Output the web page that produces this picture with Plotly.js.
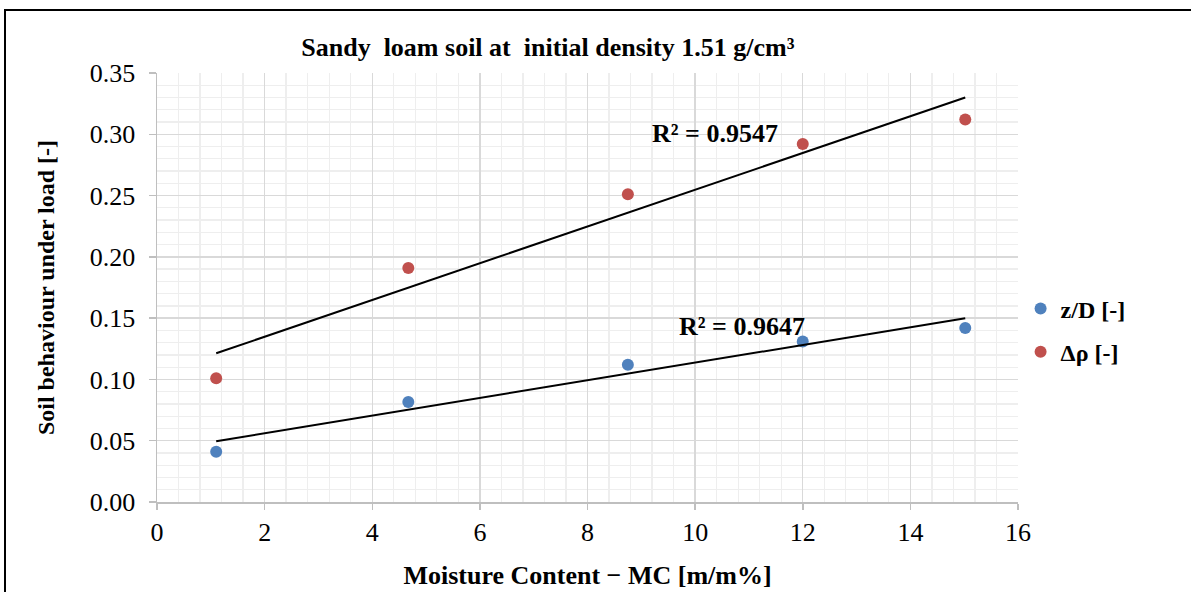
<!DOCTYPE html>
<html>
<head>
<meta charset="utf-8">
<script src="https://cdn.plot.ly/plotly-3.0.1.min.js"></script>
<style>
html,body{margin:0;padding:0;overflow:hidden;background:#fff;}
#wrap{position:relative;width:1191px;height:592px;}
#chart{position:absolute;left:0;top:0;width:1191px;height:592px;}
#frame{position:absolute;left:4px;top:9px;width:1300px;height:700px;border-left:2.5px solid #000;border-top:2.5px solid #000;pointer-events:none;}
</style>
</head>
<body>
<div id="wrap"><div id="chart"></div><div id="frame"></div></div>
<script>
// Data
const moisture = [1.1, 4.67, 8.75, 12.0, 15.02];
const zD = [0.041, 0.0816, 0.112, 0.131, 0.142];
const dRho = [0.101, 0.191, 0.251, 0.292, 0.312];
const seriesNames = ['z/D [-]', 'Δρ [-]'];
const r2Labels = ['R² = 0.9647', 'R² = 0.9547'];

function linfit(x, y) {
  const n = x.length;
  const mx = x.reduce((a, b) => a + b, 0) / n;
  const my = y.reduce((a, b) => a + b, 0) / n;
  let sxy = 0, sxx = 0;
  for (let i = 0; i < n; i++) { sxy += (x[i] - mx) * (y[i] - my); sxx += (x[i] - mx) ** 2; }
  const m = sxy / sxx;
  return { m: m, b: my - m * mx };
}
const xEnds = [Math.min(...moisture), Math.max(...moisture)];
const fz = linfit(moisture, zD);
const fr = linfit(moisture, dRho);

const font = 'Liberation Serif, Times New Roman, serif';
const traces = [
  {x: moisture, y: zD, mode: 'markers', type: 'scatter', name: '<b>' + seriesNames[0] + '</b>', legendgroup: 'a',
   marker: {color: '#4f81bd', size: 12}},
  {x: moisture, y: dRho, mode: 'markers', type: 'scatter', name: '<b>' + seriesNames[1] + '</b>', legendgroup: 'b',
   marker: {color: '#c0504d', size: 12}},
  {x: xEnds, y: xEnds.map(v => fz.m * v + fz.b), mode: 'lines', type: 'scatter', showlegend: false,
   line: {color: '#000', width: 2}, hoverinfo: 'skip'},
  {x: xEnds, y: xEnds.map(v => fr.m * v + fr.b), mode: 'lines', type: 'scatter', showlegend: false,
   line: {color: '#000', width: 2}, hoverinfo: 'skip'}
];

const layout = {
  width: 1191, height: 592,
  margin: {l: 157, r: 173, t: 73, b: 90},
  paper_bgcolor: '#fff', plot_bgcolor: '#fff',
  font: {family: font, color: '#000', size: 26},
  title: {text: '<b>Sandy  loam soil at  initial density 1.51 g/cm³</b>', font: {family: font, size: 26, color: '#000'},
          xref: 'container', x: 0.46, xanchor: 'center', yref: 'container', y: 1 - 47/592, yanchor: 'middle'},
  xaxis: {
    range: [0, 16], dtick: 2, tick0: 0,
    showgrid: true, gridcolor: '#d9d9d9', gridwidth: 1.3,
    minor: {dtick: 0.4, showgrid: true, gridcolor: '#eeeeee', gridwidth: 1.3},
    showline: true, linecolor: '#bfbfbf', linewidth: 1.5,
    ticks: 'outside', ticklen: 6, tickcolor: '#bfbfbf', tickwidth: 1.5,
    zeroline: false, tickfont: {family: font, size: 26, color: '#000'},
    title: {text: '<b>Moisture Content − MC [m/m%]</b>', font: {family: font, size: 26, color: '#000'}, standoff: 20}
  },
  yaxis: {
    range: [0, 0.35], dtick: 0.05, tick0: 0, tickformat: '.2f',
    showgrid: true, gridcolor: '#d9d9d9', gridwidth: 1.3,
    minor: {dtick: 0.01, showgrid: true, gridcolor: '#eeeeee', gridwidth: 1.3},
    showline: true, linecolor: '#bfbfbf', linewidth: 1.5,
    ticks: 'outside', ticklen: 7, tickcolor: '#bfbfbf', tickwidth: 1.5,
    zeroline: false, tickfont: {family: font, size: 26, color: '#000'}, ticklabelstandoff: 8,
    title: {text: '<b>Soil behaviour under load [-]</b>', font: {family: font, size: 24, color: '#000'}, standoff: 28}
  },
  legend: {
    x: 1.003, xanchor: 'left', y: 0.40, yanchor: 'middle',
    font: {family: font, size: 24, color: '#000'},
    traceorder: 'grouped', tracegroupgap: 9, itemwidth: 30,
    bgcolor: 'rgba(0,0,0,0)'
  },
  annotations: [
    {x: 10.87, y: 0.143, xref: 'x', yref: 'y', text: '<b>' + r2Labels[0] + '</b>', showarrow: false,
     font: {family: font, size: 26, color: '#000'}},
    {x: 10.37, y: 0.301, xref: 'x', yref: 'y', text: '<b>' + r2Labels[1] + '</b>', showarrow: false,
     font: {family: font, size: 26, color: '#000'}}
  ],
  showlegend: true
};

Plotly.newPlot('chart', traces, layout, {displayModeBar: false, staticPlot: true});
</script>
</body>
</html>
